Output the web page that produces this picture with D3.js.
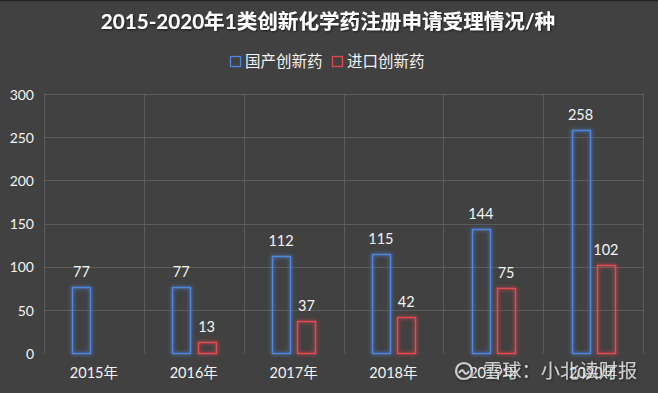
<!DOCTYPE html>
<html><head><meta charset="utf-8">
<script src="https://cdn.jsdelivr.net/npm/d3@7"></script>
<style>
html,body{margin:0;padding:0;background:#414141;}
svg{display:block;}
</style></head>
<body>
<script>
const title = "2015-2020年1类创新化学药注册申请受理情况/种";
const categories = ["2015年","2016年","2017年","2018年","2019年","2020年"];
const seriesNames = ["国产创新药","进口创新药"];
const domestic = [77, 77, 112, 115, 144, 258];
const imported = [null, 13, 37, 42, 75, 102];
const yTicks = [0, 50, 100, 150, 200, 250, 300];
const watermark = "雪球：小北读财报";

const W = 658, H = 393;
const colors = ["#4f86e0", "#e4494f"];
const FONT = "Lato, 'Noto Sans CJK SC', sans-serif";

const svg = d3.select("body").append("svg").attr("width", W).attr("height", H);
const defs = svg.append("defs");
["glowB","glowR"].forEach((id,i)=>{
  const f = defs.append("filter").attr("id", id).attr("x","-50%").attr("y","-50%").attr("width","200%").attr("height","200%");
  f.append("feGaussianBlur").attr("in","SourceGraphic").attr("stdDeviation",2).attr("result","b");
  const m = f.append("feMerge");
  m.append("feMergeNode").attr("in","b");
  m.append("feMergeNode").attr("in","SourceGraphic");
});
const sh = defs.append("filter").attr("id","tshadow").attr("x","-20%").attr("y","-30%").attr("width","140%").attr("height","160%");
sh.append("feDropShadow").attr("dx",1).attr("dy",1).attr("stdDeviation",0.8).attr("flood-color","#000").attr("flood-opacity",0.6);

svg.append("rect").attr("width",W).attr("height",H).attr("fill","#414141");
svg.append("line").attr("x1",0).attr("x2",W).attr("y1",0.5).attr("y2",0.5).attr("stroke","#222").attr("stroke-width",1.5);

const x = d3.scaleBand().domain(categories).range([44, 643]).padding(0);
const y = d3.scaleLinear().domain([0, 300]).range([353.3, 94]);

// grid
const g = svg.append("g");
g.selectAll("line.h").data(yTicks).join("line")
  .attr("x1",44).attr("x2",643)
  .attr("y1",d=>Math.round(y(d))+0.5).attr("y2",d=>Math.round(y(d))+0.5)
  .attr("stroke", d=> d===0 ? "#444" : "#5c5c5c").attr("stroke-width",1);
const vlines = categories.map(c=>x(c)).concat([x.range()[1]]);
g.selectAll("line.v").data(vlines).join("line")
  .attr("x1",d=>Math.round(d)+0.5).attr("x2",d=>Math.round(d)+0.5)
  .attr("y1",y(300)).attr("y2",y(0))
  .attr("stroke","#5c5c5c").attr("stroke-width",1);

// y axis
const yAxis = d3.axisLeft(y).tickValues(yTicks).tickSize(0).tickPadding(0);
const ya = svg.append("g").attr("transform","translate(34,0)").call(yAxis);
ya.select(".domain").remove();
ya.selectAll("text").attr("fill","#f4f4f4").attr("font-family",FONT).attr("font-size",14).attr("dy","0.36em");

// x axis
const xAxis = d3.axisBottom(x).tickSize(0).tickPadding(0);
const xa = svg.append("g").attr("transform","translate(0,373)").call(xAxis);
xa.select(".domain").remove();
xa.selectAll("text").attr("fill","#f4f4f4").attr("font-family",FONT).attr("font-size",14.5).attr("dy","0.36em");

// bars
const series = [domestic, imported];
const offsets = [[-21.5,-3.5],[3.8,21.8]];
series.forEach((vals, si)=>{
  const data = categories.map((c,i)=>({c, v: vals[i]})).filter(d=>d.v!=null);
  const cx = d=> x(d.c) + x.bandwidth()/2;
  svg.append("g").attr("filter", si===0 ? "url(#glowB)" : "url(#glowR)")
    .selectAll("rect").data(data).join("rect")
    .attr("x", d=> Math.round(cx(d)+offsets[si][0])+0.5)
    .attr("y", d=> Math.round(y(d.v))+0.5)
    .attr("width", offsets[si][1]-offsets[si][0])
    .attr("height", d=> Math.round(y(0)) - Math.round(y(d.v)))
    .attr("fill","none").attr("stroke",colors[si]).attr("stroke-width",1.5);
  svg.append("g").selectAll("text").data(data).join("text")
    .attr("x", d=> cx(d)+(offsets[si][0]+offsets[si][1])/2)
    .attr("y", d=> y(d.v)-10)
    .attr("text-anchor","middle")
    .attr("fill","#f4f4f4").attr("font-family",FONT).attr("font-size",14.5)
    .text(d=>d.v);
});

// title
svg.append("text").attr("x",328).attr("y",29).attr("text-anchor","middle")
  .attr("fill","#ffffff").attr("font-family",FONT).attr("font-weight","bold").attr("font-size",20.6)
  .attr("filter","url(#tshadow)")
  .text(title);

// legend
const legX = [230, 332];
seriesNames.forEach((n,i)=>{
  svg.append("rect").attr("x",legX[i]+0.5).attr("y",56.5).attr("width",10).attr("height",10)
    .attr("fill","none").attr("stroke",colors[i]).attr("stroke-width",1.3);
  svg.append("text").attr("x",legX[i]+15).attr("y",61.5).attr("dy","0.36em")
    .attr("fill","#f4f4f4").attr("font-family",FONT).attr("font-size",15.5).text(n);
});

// watermark
const wm = svg.append("g").attr("opacity",0.85).attr("filter","url(#tshadow)");
wm.append("circle").attr("cx",464).attr("cy",371).attr("r",8).attr("fill","none").attr("stroke","#e6e6e6").attr("stroke-width",2.2);
wm.append("path").attr("d","M459,373 q3,-5 5,-1 q2,4 5,-1").attr("fill","none").attr("stroke","#e6e6e6").attr("stroke-width",2);
wm.append("text").attr("x",483).attr("y",371).attr("dy","0.36em")
  .attr("fill","#e6e6e6").attr("font-family",FONT).attr("font-size",19.3).text(watermark);
</script>
</body></html>
